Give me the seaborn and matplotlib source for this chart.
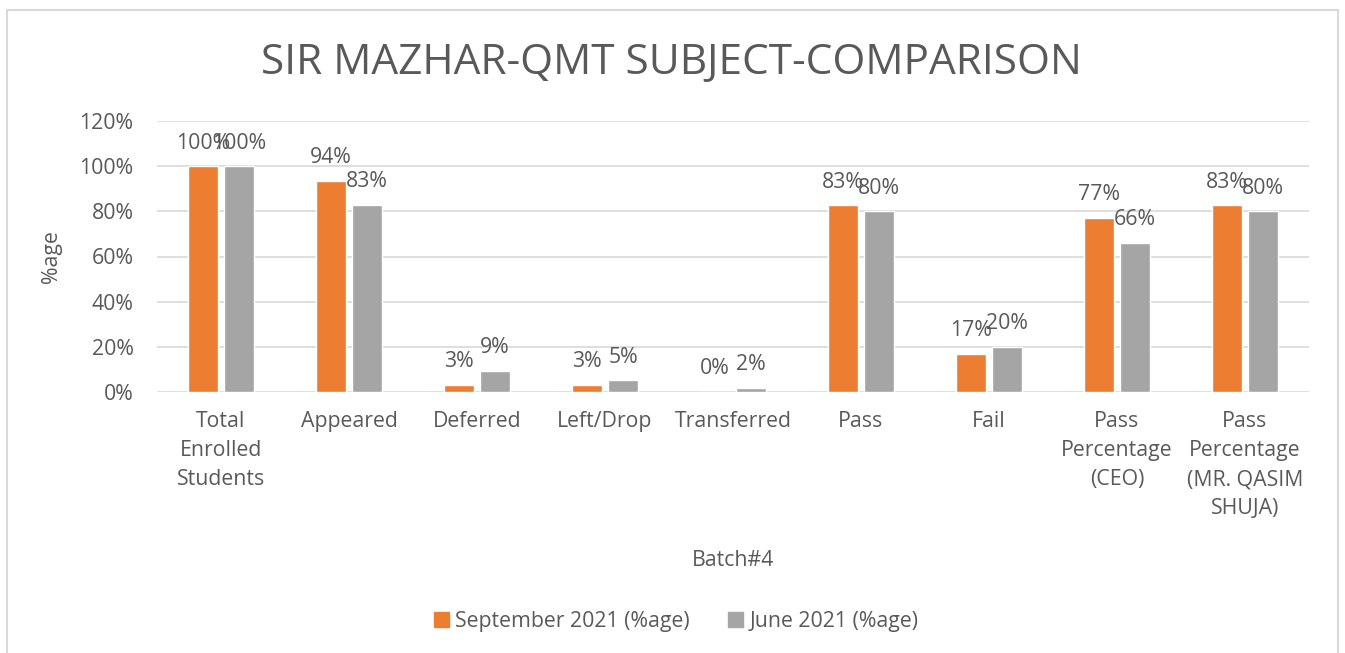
import matplotlib
matplotlib.use('Agg')
import matplotlib.pyplot as plt
from matplotlib.lines import Line2D
from matplotlib.patches import Patch
import pandas as pd
import seaborn as sns

# Data
categories = ['Total\nEnrolled\nStudents', 'Appeared', 'Deferred', 'Left/Drop',
              'Transferred', 'Pass', 'Fail', 'Pass\nPercentage\n(CEO)',
              'Pass\nPercentage\n(MR. QASIM\nSHUJA)']
sep_2021 = [1.00, 0.935, 0.031, 0.031, 0.0, 0.827, 0.17, 0.771, 0.827]
jun_2021 = [1.00, 0.83, 0.093, 0.052, 0.019, 0.80, 0.20, 0.66, 0.80]
series_names = ['September 2021 (%age)', 'June 2021 (%age)']
series_colors = ['#ED7D31', '#A5A5A5']
y_ticks = [0, 0.2, 0.4, 0.6, 0.8, 1.0, 1.2]

df = pd.DataFrame({
    'category': categories * 2,
    'value': sep_2021 + jun_2021,
    'series': [series_names[0]] * len(categories) + [series_names[1]] * len(categories),
})

sns.set_style('white')
plt.rcParams['font.family'] = ['Open Sans', 'DejaVu Sans']
text_color = '#595959'
fs = 15.3

fig = plt.figure(figsize=(13.45, 6.53), dpi=100)
ax = fig.add_axes([157 / 1345, 1 - 392 / 653, (1309 - 157) / 1345, (392 - 121) / 653])

sns.barplot(data=df, x='category', y='value', hue='series', order=categories,
            hue_order=series_names, palette=series_colors, width=0.5625, gap=0.194,
            saturation=1, ax=ax, legend=False)

for cont in ax.containers:
    ax.bar_label(cont, labels=[f'{v * 100:.0f}%' for v in cont.datavalues],
                 padding=9, fontsize=fs, color=text_color)

ax.set_ylim(0, 1.2)
ax.set_xlim(-0.5, len(categories) - 0.5)
ax.set_yticks(y_ticks)
ax.set_yticklabels([f'{t * 100:.0f}%' for t in y_ticks])
ax.yaxis.grid(True, color='#D9D9D9', linewidth=1.2)
ax.set_axisbelow(True)
for s in ax.spines.values():
    s.set_visible(False)
ax.tick_params(axis='both', length=0, labelsize=fs, labelcolor=text_color)
ax.tick_params(axis='y', pad=17)
ax.tick_params(axis='x', pad=14)
for lbl in ax.get_xticklabels():
    lbl.set_linespacing(1.5)
    lbl.set_verticalalignment('top')

ax.set_xlabel('Batch#4', fontsize=fs, color=text_color, labelpad=0)
ax.xaxis.set_label_coords(0.5, -(550 - 392) / (392 - 121))
ax.set_ylabel('%age', fontsize=fs, color=text_color)
ax.yaxis.set_label_coords(-(157 - 62) / (1309 - 157), 0.5)

fig.text(671 / 1345, 1 - 63 / 653, 'SIR MAZHAR-QMT SUBJECT-COMPARISON',
         ha='center', va='center', fontsize=30.5, color=text_color)

handles = [Patch(color=c, label=n) for c, n in zip(series_colors, series_names)]
fig.legend(handles=handles, loc='center', bbox_to_anchor=(676 / 1345, 1 - 621 / 653),
           ncol=2, frameon=False, fontsize=fs, labelcolor=text_color,
           handlelength=0.7, handleheight=0.7, handletextpad=0.3, columnspacing=1.8)

# chart border
border = '#D9D9D9'
fig.add_artist(Line2D([7 / 1345, 7 / 1345], [0, 1 - 10 / 653], color=border, lw=1.5, transform=fig.transFigure))
fig.add_artist(Line2D([7 / 1345, 1338 / 1345], [1 - 10 / 653, 1 - 10 / 653], color=border, lw=1.5, transform=fig.transFigure))
fig.add_artist(Line2D([1338 / 1345, 1338 / 1345], [0, 1 - 10 / 653], color=border, lw=1.5, transform=fig.transFigure))

fig.savefig('out.png', dpi=100)
